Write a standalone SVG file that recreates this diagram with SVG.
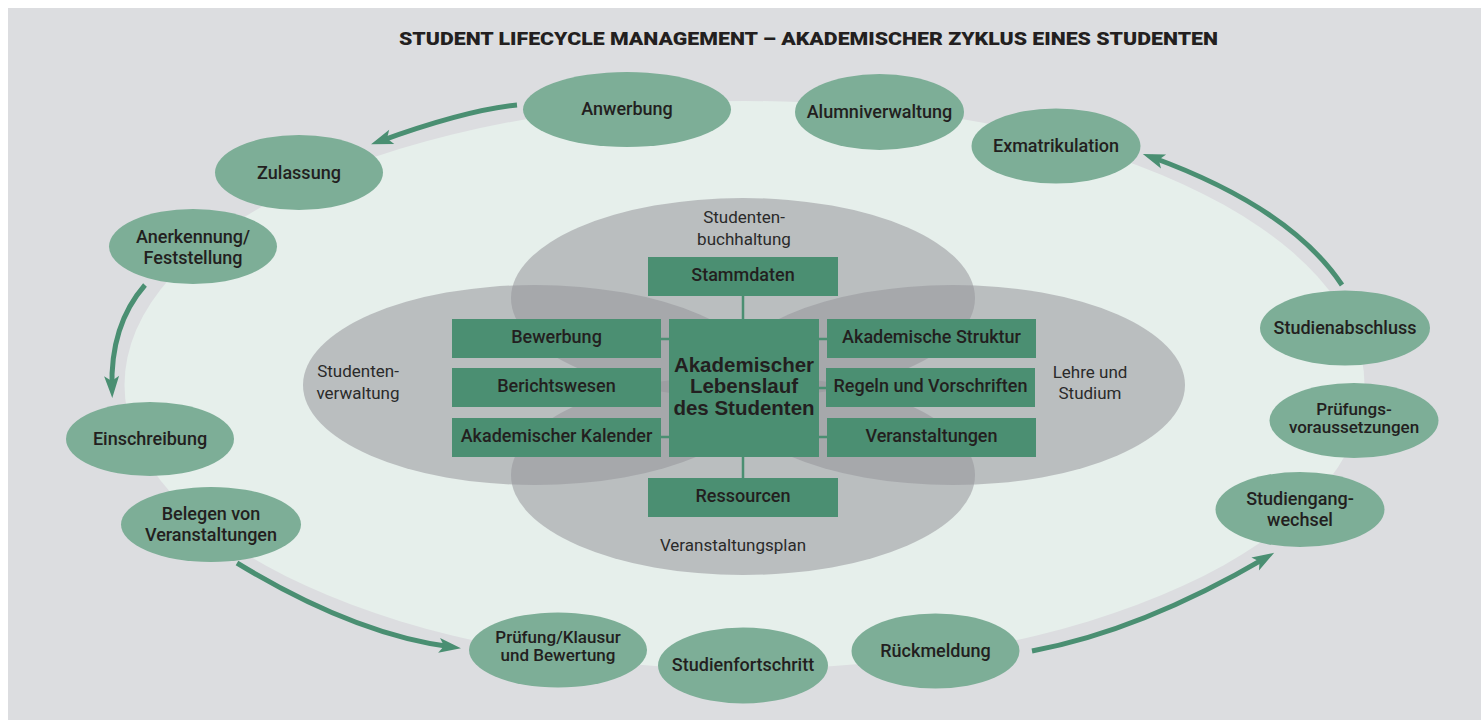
<svg xmlns="http://www.w3.org/2000/svg" width="1481" height="720" viewBox="0 0 1481 720">
<defs>
<style>
.bg{fill:#dcdde0}
.light{fill:#e6efeb}
.zone{fill:#95969b;fill-opacity:0.55}
.node{fill:#7dae97}
.box{fill:#4b8f72}
.nt{font-family:Roboto,"Liberation Sans",sans-serif;font-weight:500;font-size:18px;fill:#231f20;text-anchor:middle}
.nt2{font-family:Roboto,"Liberation Sans",sans-serif;font-weight:500;font-size:17px;fill:#231f20;text-anchor:middle}
.ct{font-family:"Liberation Sans",Arial,sans-serif;font-weight:bold;font-size:20.5px;fill:#231f20;text-anchor:middle}
.zt{font-family:Roboto,"Liberation Sans",sans-serif;font-weight:400;font-size:17px;fill:#2a2a2a;text-anchor:middle}
.title{font-family:Roboto,"Liberation Sans",sans-serif;font-weight:900;font-size:18.5px;fill:#231f20}
.arrow{fill:none;stroke:#4a8f72;stroke-width:5}
.link{stroke:#4b8f72;stroke-width:2.5}
</style>
<marker id="ah" markerUnits="userSpaceOnUse" markerWidth="40" markerHeight="40" refX="0" refY="0" orient="auto" overflow="visible">
<path d="M9,0 L-13,-7.5 L-8,0 L-13,7.5 Z" fill="#4a8f72"/>
</marker>
</defs>
<rect x="0" y="0" width="1481" height="720" fill="#ffffff"/>
<rect class="bg" x="8" y="8" width="1473" height="712"/>
<text class="title" x="399" y="45" textLength="819" lengthAdjust="spacingAndGlyphs">STUDENT LIFECYCLE MANAGEMENT – AKADEMISCHER ZYKLUS EINES STUDENTEN</text>
<ellipse class="light" cx="744.5" cy="385" rx="620" ry="284"/>
<g id="zones">
<ellipse class="zone" cx="743" cy="298" rx="232" ry="100"/>
<ellipse class="zone" cx="743" cy="475" rx="232" ry="100"/>
<ellipse class="zone" cx="535" cy="385" rx="232" ry="100"/>
<ellipse class="zone" cx="953" cy="385" rx="232" ry="100"/>
<text class="zt" x="744" y="223">Studenten-</text>
<text class="zt" x="744" y="245">buchhaltung</text>
<text class="zt" x="358" y="377">Studenten-</text>
<text class="zt" x="358" y="399">verwaltung</text>
<text class="zt" x="1090" y="378">Lehre und</text>
<text class="zt" x="1090" y="399">Studium</text>
<text class="zt" x="733" y="551">Veranstaltungsplan</text>
</g>
<g id="connectors">
<line class="link" x1="743" y1="296" x2="743" y2="319"/>
<line class="link" x1="743" y1="457" x2="743" y2="478"/>
<line class="link" x1="661" y1="339" x2="669" y2="339"/>
<line class="link" x1="661" y1="437" x2="669" y2="437"/>
<line class="link" x1="819" y1="339" x2="827" y2="339"/>
<line class="link" x1="819" y1="388" x2="827" y2="388"/>
<line class="link" x1="819" y1="437" x2="827" y2="437"/>
<path class="arrow" d="M517,105 Q466,110 379.5,141.3" marker-end="url(#ah)"/>
<path class="arrow" d="M145,285 Q110,325 112,389" marker-end="url(#ah)"/>
<path class="arrow" d="M237,563 Q354.6,634.6 452,647" marker-end="url(#ah)"/>
<path class="arrow" d="M1032,651 Q1141.5,630.6 1266.4,557.4" marker-end="url(#ah)"/>
<path class="arrow" d="M1342,285 Q1290.3,207.5 1151.3,157" marker-end="url(#ah)"/>
</g>
<g id="center">
<rect class="box" x="669" y="319" width="150" height="138"/>
<text class="ct" x="744" y="372">Akademischer</text>
<text class="ct" x="744" y="393">Lebenslauf</text>
<text class="ct" x="744" y="415">des Studenten</text>
</g>
<g id="box-stammdaten"><rect class="box" x="648" y="257" width="190" height="39"/><text class="nt" x="743" y="281">Stammdaten</text></g>
<g id="box-ressourcen"><rect class="box" x="648" y="478" width="190" height="39"/><text class="nt" x="743" y="502">Ressourcen</text></g>
<g id="box-bewerbung"><rect class="box" x="452" y="319" width="209" height="39"/><text class="nt" x="556.5" y="343">Bewerbung</text></g>
<g id="box-berichtswesen"><rect class="box" x="452" y="368" width="209" height="39"/><text class="nt" x="556.5" y="392">Berichtswesen</text></g>
<g id="box-kalender"><rect class="box" x="452" y="418" width="209" height="39"/><text class="nt" x="556.5" y="442">Akademischer Kalender</text></g>
<g id="box-struktur"><rect class="box" x="827" y="319" width="209" height="39"/><text class="nt" x="931.5" y="343">Akademische Struktur</text></g>
<g id="box-regeln"><rect class="box" x="826" y="368" width="209" height="39"/><text class="nt" x="930.5" y="392">Regeln und Vorschriften</text></g>
<g id="box-veranstaltungen"><rect class="box" x="827" y="418" width="209" height="39"/><text class="nt" x="931.5" y="442">Veranstaltungen</text></g>
<g id="n-anwerbung"><ellipse class="node" cx="627" cy="109.5" rx="104" ry="37.5"/><text class="nt" x="627" y="115">Anwerbung</text></g>
<g id="n-zulassung"><ellipse class="node" cx="299" cy="172.5" rx="84" ry="37.5"/><text class="nt" x="299" y="179">Zulassung</text></g>
<g id="n-anerkennung"><ellipse class="node" cx="193" cy="246.5" rx="84" ry="37.5"/><text class="nt" x="193" y="243">Anerkennung/</text><text class="nt" x="193" y="263.5">Feststellung</text></g>
<g id="n-einschreibung"><ellipse class="node" cx="150" cy="439" rx="84" ry="37"/><text class="nt" x="150" y="445">Einschreibung</text></g>
<g id="n-belegen"><ellipse class="node" cx="211" cy="524.5" rx="90" ry="37.5"/><text class="nt" x="211" y="520">Belegen von</text><text class="nt" x="211" y="540.5">Veranstaltungen</text></g>
<g id="n-pruefung"><ellipse class="node" cx="558" cy="650" rx="89" ry="37.5"/><text class="nt2" x="558" y="643">Prüfung/Klausur</text><text class="nt2" x="558" y="661">und Bewertung</text></g>
<g id="n-fortschritt"><ellipse class="node" cx="743" cy="665.5" rx="85" ry="38"/><text class="nt" x="743" y="671">Studienfortschritt</text></g>
<g id="n-rueckmeldung"><ellipse class="node" cx="935.5" cy="651" rx="84" ry="37.5"/><text class="nt" x="935.5" y="657">Rückmeldung</text></g>
<g id="n-wechsel"><ellipse class="node" cx="1300" cy="509.5" rx="84.5" ry="37.5"/><text class="nt" x="1300" y="505">Studiengang-</text><text class="nt" x="1300" y="525.5">wechsel</text></g>
<g id="n-voraussetzungen"><ellipse class="node" cx="1354" cy="420.5" rx="84.5" ry="37.5"/><text class="nt2" x="1354" y="415">Prüfungs-</text><text class="nt2" x="1354" y="433">voraussetzungen</text></g>
<g id="n-abschluss"><ellipse class="node" cx="1345" cy="328" rx="85" ry="37.5"/><text class="nt" x="1345" y="334">Studienabschluss</text></g>
<g id="n-exmatrikulation"><ellipse class="node" cx="1056" cy="146" rx="84.5" ry="37.5"/><text class="nt" x="1056" y="152">Exmatrikulation</text></g>
<g id="n-alumni"><ellipse class="node" cx="879.5" cy="112" rx="84.5" ry="38"/><text class="nt" x="879.5" y="118">Alumniverwaltung</text></g>
</svg>
